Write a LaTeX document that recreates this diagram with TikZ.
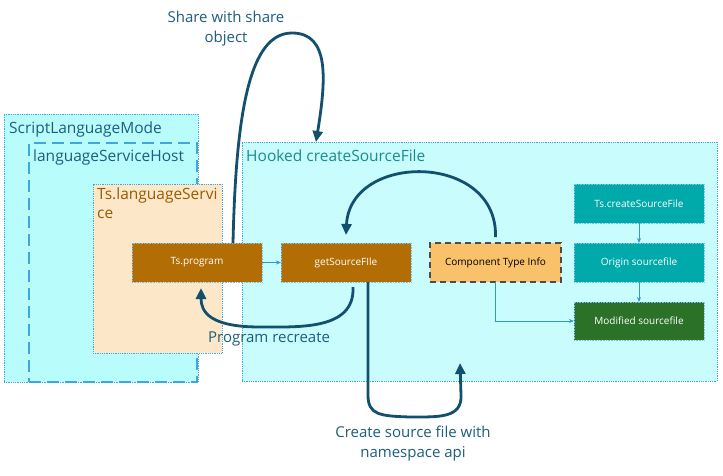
\documentclass[tikz,border=0pt]{standalone}
\usepackage{fontspec}
\setmainfont{Open Sans}
\usetikzlibrary{arrows.meta,calc}
\definecolor{cyanA}{HTML}{B8FCFC}
\definecolor{cyanB}{HTML}{C9FCFC}
\definecolor{bordblue}{HTML}{3FA7E0}
\definecolor{peach}{HTML}{FCE8C9}
\definecolor{brownbox}{HTML}{B36D05}
\definecolor{orangebox}{HTML}{F8C16A}
\definecolor{tealbox}{HTML}{01AAAA}
\definecolor{greenbox}{HTML}{2B7127}
\definecolor{thickblue}{HTML}{12506E}
\definecolor{thinblue}{HTML}{2C9AD8}
\definecolor{labelblue}{HTML}{1D5E7E}
\definecolor{tealtext}{HTML}{1A8C8C}
\definecolor{browntext}{HTML}{9A5A00}
\tikzset{
  cont/.style={rectangle, inner sep=0pt, outer sep=0pt, anchor=north west},
  dotbord/.style={draw=bordblue, densely dotted, line width=0.8pt},
  smallbox/.style={rectangle, inner sep=0pt, outer sep=0pt, minimum width=130pt, minimum height=39pt, font=\fontsize{10}{12}\selectfont, text=white, draw=bordblue!70, densely dotted, line width=0.6pt},
  title/.style={anchor=base west, inner sep=0pt, font=\fontsize{15.5}{19}\selectfont},
  thin/.style={draw=thinblue, line width=0.8pt, -{Stealth[length=5pt,width=4pt]}},
  thick/.style={draw=thickblue, line width=2.8pt, -{Triangle[length=11pt,width=10pt]}},
  lbl/.style={align=center, inner sep=0pt, text=labelblue, font=\fontsize{15}{20}\selectfont}
}
\begin{document}
\begin{tikzpicture}[x=1pt,y=-1pt]
\path[use as bounding box, fill=white] (0,0) rectangle (723,475);
% containers
\node[cont, fill=cyanA, dotbord, minimum width=194pt, minimum height=268pt] (slm) at (4,114) {};
\node[title, text=labelblue] (slmt) at (9,133) {ScriptLanguageMode};
\node[cont, fill=cyanA, draw=bordblue, line width=1.3pt, dash pattern=on 12pt off 6pt, minimum width=168pt, minimum height=239pt] (lsh) at (29,143) {};
\node[title, text=labelblue] (lsht) at (33,161) {languageServiceHost};
\node[cont, fill=peach, dotbord, minimum width=129pt, minimum height=169pt] (tls) at (93,184) {};
\node[title, text=browntext, align=left, anchor=north west] (tlst) at (97,188) {Ts.languageServi\\ce};
\node[cont, fill=cyanB, dotbord, minimum width=475pt, minimum height=239pt] (hook) at (242,142) {};
\node[title, text=tealtext] (hookt) at (246,161) {Hooked createSourceFile};
% boxes
\node[smallbox, fill=brownbox] (prog) at (197,262.5) {Ts.program};
\node[smallbox, fill=brownbox] (gsf) at (346,262.5) {getSourceFIle};
\node[smallbox, fill=orangebox, minimum width=131pt, text=black, draw=black!70, solid, dash pattern=on 6pt off 4pt, line width=1.4pt] (cti) at (495.5,262.5) {Component Type Info};
\node[smallbox, fill=tealbox] (tcsf) at (639,203.5) {Ts.createSourceFile};
\node[smallbox, fill=tealbox] (orig) at (639,262.5) {Origin sourcefile};
\node[smallbox, fill=greenbox, minimum height=38pt] (mod) at (639,321) {Modified sourcefile};
% thin connectors
\draw[thin] (prog.east) -- (gsf.west);
\draw[thin] (tcsf.south) -- (orig.north);
\draw[thin] (orig.south) -- (mod.north);
\draw[thin] (cti.south) |- (mod.west);
% thick curves
\coordinate (shareTip) at ([xshift=74pt]hook.north west);
\draw[thick] ([xshift=36pt]prog.north) .. controls (236,110) and (250,33) .. (292,33) .. controls (330,33) and (326,80) .. (shareTip);
\coordinate (ctiTop) at ([yshift=6pt]cti.north);
\coordinate (gsfTop) at ([yshift=8pt]gsf.north);
\draw[thick] (ctiTop) .. controls (498,152) and (350,152) .. (gsfTop);
\coordinate (gsfB1) at ([xshift=7pt,yshift=-5pt]gsf.south);
\coordinate (progB) at ([xshift=4pt,yshift=-6pt]prog.south);
\draw[thick] (gsfB1) .. controls (355,330) and (300,327) .. (260,327) .. controls (210,327) and (201,312) .. (progB);
\coordinate (nsTip) at (460,363);
\draw[thick] ([xshift=22pt]gsf.south) -- (368,395) .. controls (368,415) and (380,416) .. (410,417) .. controls (440,417) and (462,418) .. (461,395) -- (nsTip);
% labels
\node[lbl] (l1) at (226,29) {Share with share\\object};
\node[lbl, anchor=west] (l2) at (208,339) {Program recreate};
\node[lbl] (l3) at (413,444) {Create source file with\\namespace api};
\end{tikzpicture}
\end{document}
